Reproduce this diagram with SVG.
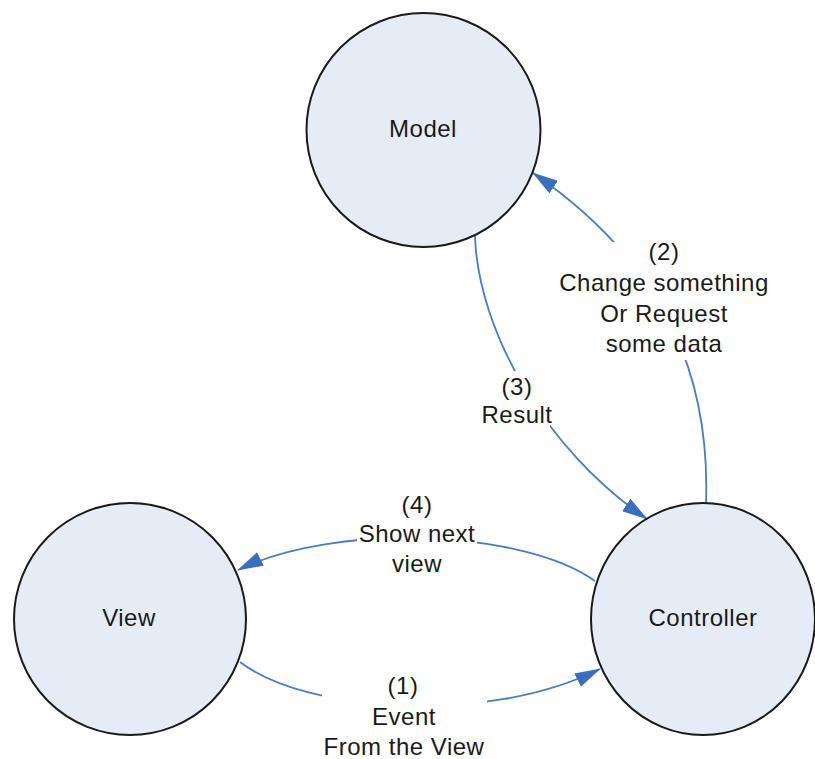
<svg xmlns="http://www.w3.org/2000/svg" width="815" height="759" viewBox="0 0 815 759">
<style>
.node{fill:#E6ECF6;stroke:#1a1a1a;stroke-width:2}
.lbl{font-family:"Liberation Sans",Arial,sans-serif;font-size:24px;letter-spacing:0.5px;fill:#1a1a1a;text-anchor:middle}
.edge{fill:none;stroke:#4A7CC0;stroke-width:1.8}
.bg{fill:#ffffff}
</style>
<defs>
<marker id="arr" markerUnits="userSpaceOnUse" viewBox="0 0 26 15" refX="25" refY="7.5" markerWidth="26" markerHeight="15" orient="auto">
<path d="M0,0 L26,7.5 L0,15 z" fill="#3A6FBF"/>
</marker>
</defs>
<rect width="815" height="759" fill="#ffffff"/>
<g id="connectors">
<path class="edge" d="M475,236 C478,330 545,450 647,519" marker-end="url(#arr)"/>
<path class="edge" d="M706,503 C710,390 675,270 533,173" marker-end="url(#arr)"/>
<path class="edge" d="M595,581 C525,530 335,522 238,570" marker-end="url(#arr)"/>
<path class="edge" d="M240,662 C305,712 485,726 600,669" marker-end="url(#arr)"/>
</g>
<g id="node-model">
<circle class="node" cx="423.5" cy="130" r="117"/>
<text class="lbl" x="423" y="137">Model</text>
</g>
<g id="node-view">
<circle class="node" cx="130" cy="619" r="116"/>
<text class="lbl" x="129" y="626">View</text>
</g>
<g id="node-controller">
<ellipse class="node" cx="703" cy="619" rx="112" ry="116"/>
<text class="lbl" x="703" y="626">Controller</text>
</g>
<g id="label-3">
<rect class="bg" x="484" y="371" width="66" height="60"/>
<text class="lbl" x="517" y="395">(3)</text>
<text class="lbl" x="517" y="423">Result</text>
</g>
<g id="label-2">
<rect class="bg" x="552" y="242" width="224" height="118"/>
<text class="lbl" x="664" y="260">(2)</text>
<text class="lbl" x="664" y="291">Change something</text>
<text class="lbl" x="664" y="322">Or Request</text>
<text class="lbl" x="664" y="352">some data</text>
</g>
<g id="label-4">
<rect class="bg" x="357" y="521" width="120" height="30"/>
<text class="lbl" x="417" y="513">(4)</text>
<text class="lbl" x="417" y="542">Show next</text>
<text class="lbl" x="417" y="572">view</text>
</g>
<g id="label-1">
<rect class="bg" x="322" y="684" width="165" height="46"/>
<text class="lbl" x="403" y="694">(1)</text>
<text class="lbl" x="404" y="725">Event</text>
<text class="lbl" x="404" y="755">From the View</text>
</g>
</svg>
